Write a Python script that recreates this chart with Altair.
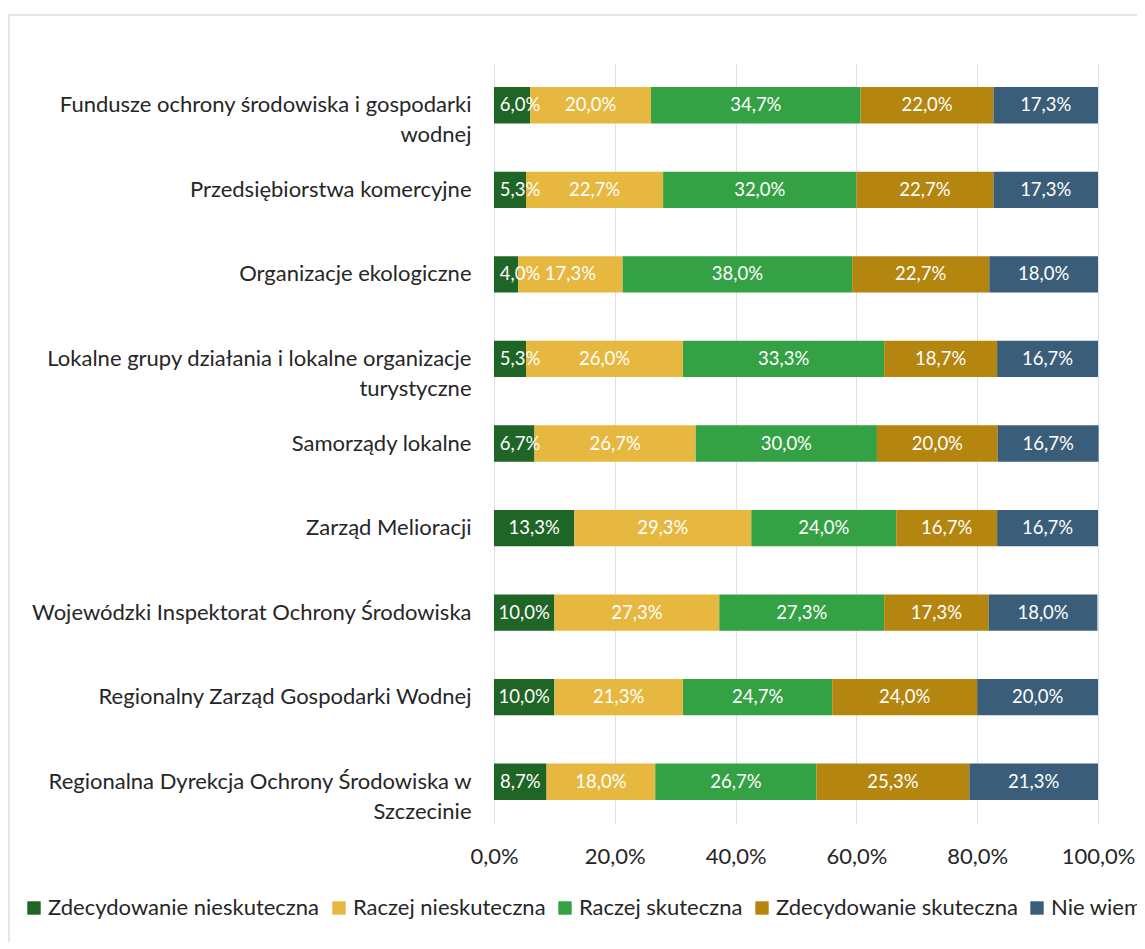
import altair as alt
import pandas as pd

categories = [
    "Fundusze ochrony środowiska i gospodarki|wodnej",
    "Przedsiębiorstwa komercyjne",
    "Organizacje ekologiczne",
    "Lokalne grupy działania i lokalne organizacje|turystyczne",
    "Samorządy lokalne",
    "Zarząd Melioracji",
    "Wojewódzki Inspektorat Ochrony Środowiska",
    "Regionalny Zarząd Gospodarki Wodnej",
    "Regionalna Dyrekcja Ochrony Środowiska w|Szczecinie",
]
series = [
    "Zdecydowanie nieskuteczna",
    "Raczej nieskuteczna",
    "Raczej skuteczna",
    "Zdecydowanie skuteczna",
    "Nie wiem",
]
zdec_nie = [6.0, 5.3, 4.0, 5.3, 6.7, 13.3, 10.0, 10.0, 8.7]
raczej_nie = [20.0, 22.7, 17.3, 26.0, 26.7, 29.3, 27.3, 21.3, 18.0]
raczej_sk = [34.7, 32.0, 38.0, 33.3, 30.0, 24.0, 27.3, 24.7, 26.7]
zdec_sk = [22.0, 22.7, 22.7, 18.7, 20.0, 16.7, 17.3, 24.0, 25.3]
nie_wiem = [17.3, 17.3, 18.0, 16.7, 16.7, 16.7, 18.0, 20.0, 21.3]
colors = ["#1f6525", "#e6b83f", "#35a145", "#b4850f", "#3a5e79"]

values = [zdec_nie, raczej_nie, raczej_sk, zdec_sk, nie_wiem]
rows = []
for si, s in enumerate(series):
    for ci, c in enumerate(categories):
        rows.append({"cat": c, "series": s, "order": si, "v": values[si][ci] / 100.0})
df = pd.DataFrame(rows)

FONT = "Lato"
AX = 22

base = alt.Chart(df)

bars = base.mark_bar().encode(
    y=alt.Y("cat:N", sort=categories,
            scale=alt.Scale(paddingInner=0.57, paddingOuter=0.285),
            axis=alt.Axis(title=None, labelExpr="split(datum.label, '|')",
                          labelFontSize=AX, labelFont=FONT, labelColor="#262626",
                          labelPadding=23, labelLineHeight=30, ticks=False,
                          domain=False, labelLimit=700)),
    x=alt.X("v:Q", stack="zero",
            scale=alt.Scale(domain=[0, 1]),
            axis=alt.Axis(title=None, values=[0, 0.2, 0.4, 0.6, 0.8, 1.0],
                          labelExpr="replace(format(datum.value, '.1%'), '.', ',')",
                          labelFontSize=AX, labelFont=FONT, labelColor="#262626",
                          labelPadding=22, labelFlush=False, ticks=False, domain=False,
                          gridColor="#d9e1ea", gridWidth=1)),
    color=alt.Color("series:N", sort=series,
                    scale=alt.Scale(domain=series, range=colors),
                    legend=alt.Legend(title=None, orient="none", direction="horizontal",
                                      legendX=-471, legendY=834,
                                      symbolType="square", symbolSize=180,
                                      symbolStrokeWidth=0, symbolOpacity=1,
                                      labelFontSize=AX, labelFont=FONT,
                                      labelColor="#262626", columnPadding=8,
                                      labelOffset=3, labelLimit=500)),
    order=alt.Order("order:Q"),
)

labels = base.transform_window(
    cum="sum(v)", sort=[alt.SortField("order")], groupby=["cat"],
    frame=[None, 0]
).transform_calculate(
    mid="max(datum.cum - datum.v / 2, 0.043)",
    lab="replace(format(datum.v * 100, '.1f'), '.', ',') + '%'",
).mark_text(color="white", fontSize=18.5, font=FONT).encode(
    y=alt.Y("cat:N", sort=categories),
    x=alt.X("mid:Q"),
    text="lab:N",
)

frame = alt.Chart(pd.DataFrame({"a": [0]})).mark_rect(
    fill=None, stroke="#d6e0ea", strokeWidth=1.5, clip=False
).encode(
    x=alt.value(-485), x2=alt.value(700), y=alt.value(-48), y2=alt.value(950)
)

chart = alt.layer(frame, bars, labels).properties(
    width=604, height=761,
    padding={"left": 486, "top": 55, "right": 39, "bottom": 118},
    autosize=alt.AutoSizeParams(type="none"),
).configure_view(stroke=None)

chart.save("out.html", embed_options={"renderer": "svg", "actions": False})
